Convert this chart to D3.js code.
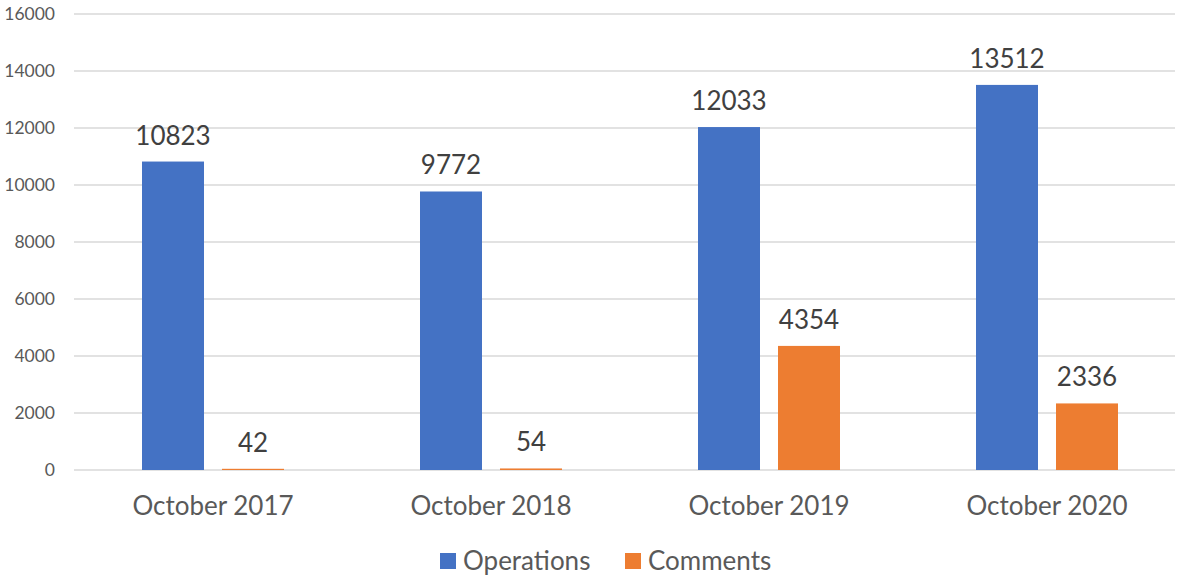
<!DOCTYPE html>
<html>
<head>
<meta charset="utf-8">
<script src="https://cdn.jsdelivr.net/npm/d3@7"></script>
<style>
  body { margin: 0; background: #fff; }
  text { font-family: Lato, "Open Sans", sans-serif; }
</style>
</head>
<body>
<div id="chart"></div>
<script>
// data
var categories = ["October 2017", "October 2018", "October 2019", "October 2020"];
var seriesNames = ["Operations", "Comments"];
var operations = [10823, 9772, 12033, 13512];
var comments = [42, 54, 4354, 2336];
var yTicks = [0, 2000, 4000, 6000, 8000, 10000, 12000, 14000, 16000];
var colors = ["#4472C4", "#ED7D31"];

var width = 1179, height = 579;
var margin = { top: 14, right: 4, bottom: 109, left: 74 };

var rows = categories.map(function (c, i) {
  return { cat: c, values: [operations[i], comments[i]] };
});

var svg = d3.select("#chart").append("svg")
  .attr("width", width).attr("height", height);

// category bands, ~278px each
var x = d3.scaleBand().domain(categories).range([74, 1186]).padding(0);
var groupW = 142;
var xs = d3.scaleBand().domain([0, 1]).range([0, groupW]).paddingInner(0.225).paddingOuter(0);

var y = d3.scaleLinear().domain([0, 16000]).range([height - margin.bottom, margin.top]);

// gridlines
svg.append("g").selectAll("line").data(yTicks).join("line")
  .attr("x1", margin.left).attr("x2", width - margin.right)
  .attr("y1", function (d) { return y(d); }).attr("y2", function (d) { return y(d); })
  .attr("stroke", "#d9d9d9").attr("stroke-width", 1.3);

// y tick labels
svg.append("g").selectAll("text").data(yTicks).join("text")
  .attr("x", 55).attr("y", function (d) { return y(d); })
  .attr("dy", "0.35em").attr("text-anchor", "end")
  .attr("font-size", 17.5).attr("fill", "#595959")
  .text(function (d) { return d; });

var groups = svg.append("g").selectAll("g").data(rows).join("g")
  .attr("transform", function (d) {
    return "translate(" + (x(d.cat) + (x.bandwidth() - groupW) / 2) + ",0)";
  });

groups.selectAll("rect").data(function (d) { return d.values; }).join("rect")
  .attr("x", function (d, i) { return xs(i); })
  .attr("width", xs.bandwidth())
  .attr("y", function (d) { return y(d); })
  .attr("height", function (d) { return y(0) - y(d); })
  .attr("fill", function (d, i) { return colors[i]; });

groups.selectAll("text").data(function (d) { return d.values; }).join("text")
  .attr("x", function (d, i) { return xs(i) + xs.bandwidth() / 2; })
  .attr("y", function (d) { return y(d) - 17; })
  .attr("text-anchor", "middle")
  .attr("font-size", 26).attr("fill", "#404040")
  .text(function (d) { return d; });

// category labels
svg.append("g").selectAll("text").data(categories).join("text")
  .attr("x", function (d) { return x(d) + x.bandwidth() / 2; })
  .attr("y", 515)
  .attr("text-anchor", "middle")
  .attr("font-size", 26).attr("fill", "#595959")
  .text(function (d) { return d; });

// legend
var legendX = [440, 625];
var legend = svg.append("g").selectAll("g").data(seriesNames).join("g")
  .attr("transform", function (d, i) { return "translate(" + legendX[i] + ",553)"; });
legend.append("rect").attr("width", 16).attr("height", 16)
  .attr("fill", function (d, i) { return colors[i]; });
legend.append("text").attr("x", 23).attr("y", 8).attr("dy", "0.35em")
  .attr("font-size", 26).attr("fill", "#595959")
  .text(function (d) { return d; });
</script>
</body>
</html>
